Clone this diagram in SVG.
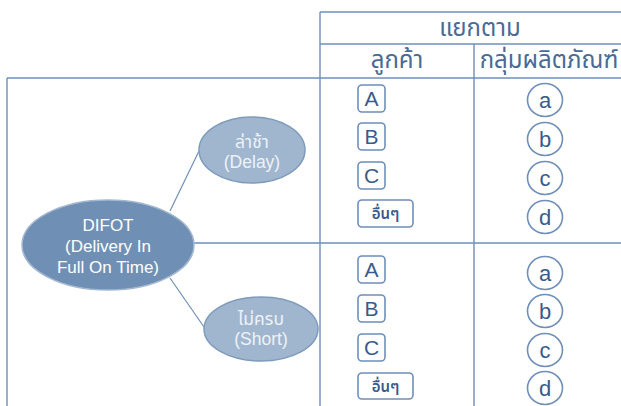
<svg xmlns="http://www.w3.org/2000/svg" width="621" height="406" viewBox="0 0 621 406">
<style>
.tl{stroke:#6F8FB8;stroke-width:1.4;fill:none}
.cn{stroke:#6F8FB5;stroke-width:1.2;fill:none}
.hd{font-family:"Noto Sans","Noto Sans Thai","Liberation Sans",sans-serif;font-size:24px;fill:#4A6A95;text-anchor:middle}
.bx{fill:#fff;stroke:#6F8FB8;stroke-width:1.6}
.bt{font-family:"Liberation Sans","Noto Sans","Noto Sans Thai",sans-serif;font-size:21px;fill:#3A5B8A;text-anchor:middle}
.th{font-family:"Noto Sans","Noto Sans Thai",sans-serif;font-size:15px;font-weight:600;fill:#3A5B8A;text-anchor:middle}
.ct{font-family:"Liberation Sans","Noto Sans",sans-serif;font-size:22px;fill:#3A5B8A;text-anchor:middle}
.et{font-family:"Liberation Sans","Noto Sans","Noto Sans Thai",sans-serif;font-size:17px;fill:#FFFFFF;text-anchor:middle}
.es{font-family:"Liberation Sans","Noto Sans","Noto Sans Thai",sans-serif;font-size:17.5px;fill:#EEF2F7;text-anchor:middle}
</style>
<rect width="621" height="406" fill="#fff"/>
<g id="table">
<line class="tl" x1="320" y1="12" x2="621" y2="12"/>
<line class="tl" x1="320" y1="44" x2="621" y2="44"/>
<line class="tl" x1="7" y1="78" x2="621" y2="78"/>
<line class="tl" x1="320" y1="12" x2="320" y2="406"/>
<line class="tl" x1="474" y1="44" x2="474" y2="406"/>
<line class="tl" x1="7" y1="78" x2="7" y2="406"/>
<line class="tl" x1="194" y1="243" x2="621" y2="243"/>
<text class="hd" x="480" y="36">แยกตาม</text>
<text class="hd" x="397" y="68">ลูกค้า</text>
<text class="hd" x="549" y="68">กลุ่มผลิตภัณฑ์</text>
</g>
<g id="connectors">
<line class="cn" x1="170" y1="211" x2="199" y2="151"/>
<line class="cn" x1="170" y1="278" x2="204" y2="327"/>
</g>
<g id="difot">
<ellipse cx="108" cy="245" rx="86" ry="45" fill="#6F90B4" stroke="#A3B8D0" stroke-width="1.5"/>
<text class="et" x="108" y="231">DIFOT</text>
<text class="et" x="108" y="252">(Delivery In</text>
<text class="et" x="108" y="273">Full On Time)</text>
</g>
<g id="delay">
<ellipse cx="252" cy="150" rx="53" ry="33" fill="#A0B6CF" stroke="#7E9BBB" stroke-width="1.5"/>
<text class="es" x="252" y="148">ล่าช้า</text>
<text class="es" x="252" y="168">(Delay)</text>
</g>
<g id="short">
<ellipse cx="261" cy="329" rx="57" ry="32" fill="#A0B6CF" stroke="#7E9BBB" stroke-width="1.5"/>
<text class="es" x="261" y="325">ไม่ครบ</text>
<text class="es" x="261" y="345">(Short)</text>
</g>
<g id="cust-top">
<rect class="bx" x="358" y="85" width="27" height="27" rx="4"/><text class="bt" x="371.5" y="106">A</text>
<rect class="bx" x="358" y="123" width="27" height="27" rx="4"/><text class="bt" x="371.5" y="144">B</text>
<rect class="bx" x="358" y="162" width="27" height="27" rx="4"/><text class="bt" x="371.5" y="183">C</text>
<rect class="bx" x="358" y="200" width="55" height="27" rx="4"/><text class="th" x="385.5" y="219">อื่นๆ</text>
</g>
<g id="cust-bottom">
<rect class="bx" x="358" y="256" width="27" height="27" rx="4"/><text class="bt" x="371.5" y="277">A</text>
<rect class="bx" x="358" y="295" width="27" height="27" rx="4"/><text class="bt" x="371.5" y="316">B</text>
<rect class="bx" x="358" y="334" width="27" height="27" rx="4"/><text class="bt" x="371.5" y="355">C</text>
<rect class="bx" x="358" y="373" width="55" height="26" rx="4"/><text class="th" x="385.5" y="392">อื่นๆ</text>
</g>
<g id="prod-top">
<ellipse class="bx" cx="545" cy="100" rx="17.5" ry="16.5"/><text class="ct" x="545" y="108">a</text>
<ellipse class="bx" cx="545" cy="139" rx="17.5" ry="16.5"/><text class="ct" x="545" y="147">b</text>
<ellipse class="bx" cx="545" cy="178" rx="17.5" ry="16.5"/><text class="ct" x="545" y="186">c</text>
<ellipse class="bx" cx="545" cy="217" rx="17.5" ry="16.5"/><text class="ct" x="545" y="225">d</text>
</g>
<g id="prod-bottom">
<ellipse class="bx" cx="545" cy="273" rx="17.5" ry="16.5"/><text class="ct" x="545" y="281">a</text>
<ellipse class="bx" cx="545" cy="311" rx="17.5" ry="16.5"/><text class="ct" x="545" y="319">b</text>
<ellipse class="bx" cx="545" cy="350" rx="17.5" ry="16.5"/><text class="ct" x="545" y="358">c</text>
<ellipse class="bx" cx="545" cy="388" rx="17.5" ry="16.5"/><text class="ct" x="545" y="396">d</text>
</g>
</svg>
